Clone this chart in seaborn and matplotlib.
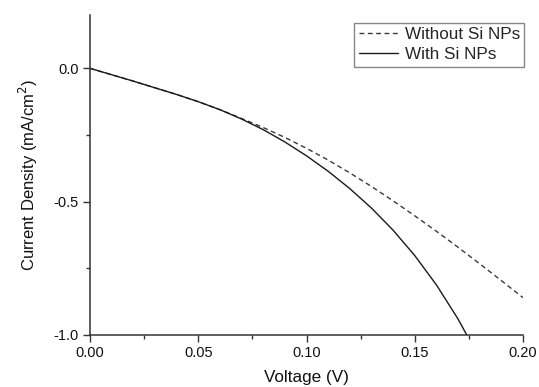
import numpy as np
import pandas as pd
import matplotlib
matplotlib.use("Agg")
import matplotlib.pyplot as plt
import seaborn as sns
from matplotlib.ticker import MultipleLocator

# Data
voltage_without = [0.00, 0.01, 0.02, 0.03, 0.04, 0.05, 0.06, 0.07, 0.08, 0.09, 0.10,
                   0.11, 0.12, 0.13, 0.14, 0.15, 0.16, 0.17, 0.18, 0.19, 0.20]
current_without = [0.000, -0.024, -0.048, -0.073, -0.098, -0.125, -0.155, -0.188, -0.222, -0.259, -0.300,
                   -0.344, -0.392, -0.443, -0.497, -0.553, -0.611, -0.671, -0.733, -0.796, -0.860]

voltage_with = [0.00, 0.01, 0.02, 0.03, 0.04, 0.05, 0.06, 0.07, 0.08, 0.09, 0.10,
                0.11, 0.12, 0.13, 0.14, 0.15, 0.16, 0.17, 0.1745]
current_with = [0.000, -0.024, -0.048, -0.073, -0.098, -0.125, -0.155, -0.190, -0.230, -0.276, -0.328,
                -0.386, -0.451, -0.524, -0.607, -0.702, -0.812, -0.940, -1.007]

labels = ["Without Si NPs", "With Si NPs"]

sns.set_theme(style="white")
plt.rcParams['font.family'] = ['Liberation Sans', 'DejaVu Sans']

fig = plt.figure(figsize=(5.39, 3.87), dpi=100)
ax = fig.add_axes([90/539, 1-335/387, (523-90)/539, (335-15)/387])

df1 = pd.DataFrame({"V": voltage_without, "J": current_without})
df2 = pd.DataFrame({"V": voltage_with, "J": current_with})

sns.lineplot(data=df1, x="V", y="J", ax=ax, color="#3a3a3a", linewidth=1.0,
             label=labels[0])
sns.lineplot(data=df2, x="V", y="J", ax=ax, color="#1a1a1a", linewidth=1.0,
             label=labels[1])
ax.lines[0].set_dashes((3.5, 2.5))

ax.set_xlim(0, 0.2)
ax.set_ylim(-1.0, 0.2)
ax.xaxis.set_minor_locator(MultipleLocator(0.025))
ax.yaxis.set_minor_locator(MultipleLocator(0.25))
ax.set_xticks([0, 0.05, 0.10, 0.15, 0.20])
ax.set_xticklabels(["0.00", "0.05", "0.10", "0.15", "0.20"])
ax.set_yticks([-1.0, -0.5, 0.0])
ax.set_yticklabels(["-1.0", "-0.5", "0.0"])

for s in ["top", "right"]:
    ax.spines[s].set_visible(False)
for s in ["left", "bottom"]:
    ax.spines[s].set_color("#333333")
    ax.spines[s].set_linewidth(1.1)

ax.tick_params(which="major", direction="out", length=5, width=1.0, color="#333333",
               labelsize=10.5, labelcolor="#111111", left=True, bottom=True, pad=3)
ax.tick_params(which="minor", direction="out", length=3, width=1.0, color="#333333",
               left=True, bottom=True)

ax.set_xlabel("Voltage (V)", fontsize=12.3, color="#111111", labelpad=7)
ax.set_ylabel("Current Density (mA/cm$^2$)", fontsize=12, color="#111111", labelpad=10)

leg = ax.legend(loc="upper right", bbox_to_anchor=(1.003, 0.975), fontsize=12.3,
                frameon=True, fancybox=False, framealpha=1, edgecolor="#888888",
                handlelength=2.3, handletextpad=0.4, borderpad=0.25, labelspacing=0.3,
                borderaxespad=0)
leg.get_frame().set_linewidth(1.0)

fig.savefig("out.png", dpi=100)
